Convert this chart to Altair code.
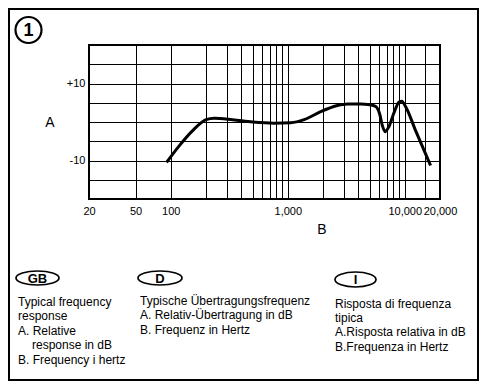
import altair as alt
import pandas as pd

# ---- data ----
freq_hz = [92, 118, 153, 200, 235, 338, 500, 764, 1060, 1380, 1910, 2660, 3240, 4210,
           5000, 5650, 6110, 6440, 6790, 7260, 8110, 8940, 9420, 10200, 12400, 16600]
resp_db = [-10.5, -6.2, -2.3, 0.6, 1.0, 0.6, 0.0, -0.3, -0.2, 0.6, 2.7, 4.3, 4.7, 4.7,
           4.5, 4.0, 2.0, -1.0, -2.5, -1.4, 2.5, 5.2, 5.4, 3.9, -2.3, -11.3]

x_grid = [20, 50, 100, 200, 300, 400, 500, 600, 700, 800, 900, 1000,
          2000, 3000, 4000, 5000, 6000, 7000, 8000, 9000, 10000, 15000, 20000]
x_labelled = [20, 50, 100, 1000, 10000, 20000]
y_grid = [-20, -15, -10, -5, 0, 5, 10, 15, 20]

gb_lines = ["Typical frequency", "response", "A. Relative", "response in dB", "B. Frequency i hertz"]
d_lines = ["Typische Übertragungsfrequenz", "A. Relativ-Übertragung in dB", "B. Frequenz in Hertz"]
i_lines = ["Risposta di frequenza", "tipica", "A.Risposta relativa in dB", "B.Frequenza in Hertz"]

FONT = "Liberation Sans"
OX, OY = 89, 45  # page position of plot origin
W, H = 351, 154

df = pd.DataFrame({"f": freq_hz, "db": resp_db})

one = alt.Data(values=[{}])


def txt(s, px, py, size=12, weight="normal", align="left"):
    return alt.Chart(one).mark_text(
        text=s, align=align, baseline="middle", fontSize=size, font=FONT,
        fontWeight=weight, color="black"
    ).encode(x=alt.value(px - OX), y=alt.value(py - OY))


def ellipse(px, py, w, h, sw=1.7):
    r = h / w
    k = 0.5523
    path = (f"M -1 0 C -1 {-k*r:.4f} {-k:.4f} {-r:.4f} 0 {-r:.4f} "
            f"C {k:.4f} {-r:.4f} 1 {-k*r:.4f} 1 0 "
            f"C 1 {k*r:.4f} {k:.4f} {r:.4f} 0 {r:.4f} "
            f"C {-k:.4f} {r:.4f} -1 {k*r:.4f} -1 0 Z")
    return alt.Chart(one).mark_point(
        shape=path, filled=False, size=w * w, stroke="black", strokeWidth=sw, opacity=1
    ).encode(x=alt.value(px - OX), y=alt.value(py - OY))


label_expr = ("indexof([" + ",".join(str(v) for v in x_labelled) +
              "], datum.value) >= 0 ? format(datum.value, ',') : ''")

line = alt.Chart(df).mark_line(
    color="black", strokeWidth=3, interpolate="monotone"
).encode(
    x=alt.X("f:Q", scale=alt.Scale(type="log", domain=[20, 20000], nice=False),
            axis=alt.Axis(values=x_grid, grid=True, gridColor="black", gridWidth=1,
                          gridOpacity=1, ticks=False, domain=False, labelExpr=label_expr,
                          labelFlush=False, labelOverlap=False, labelPadding=6,
                          labelFontSize=11, labelFont=FONT, labelColor="black", title="")),
    y=alt.Y("db:Q", scale=alt.Scale(domain=[-20, 20], nice=False, zero=False),
            axis=alt.Axis(values=y_grid, grid=True, gridColor="black", gridWidth=1,
                          gridOpacity=1, ticks=False, domain=False,
                          labelExpr="datum.value == 10 ? '+10' : (datum.value == -10 ? '-10' : '')",
                          labelOverlap=False, labelPadding=4, labelFontSize=11,
                          labelFont=FONT, labelColor="black", title="")),
)

frame = alt.Chart(one).mark_rect(fillOpacity=0, stroke="black", strokeWidth=2).encode(
    x=alt.value(9 - OX), x2=alt.value(478 - OX), y=alt.value(9 - OY), y2=alt.value(380 - OY)
)

badge = alt.Chart(one).mark_point(
    shape="circle", filled=False, size=26 * 26, stroke="black", strokeWidth=2.2, opacity=1
).encode(x=alt.value(28.5 - OX), y=alt.value(30 - OY))

layers = [frame, line, badge, txt("1", 28.5, 30.5, size=18, weight="bold", align="center"),
          txt("A", 50, 123, size=14, align="center"), txt("B", 322, 230, size=14, align="center"),
          ellipse(37.5, 278, 43, 14), txt("GB", 37.5, 278.5, size=13, weight="bold", align="center"),
          ellipse(160, 278, 44, 14), txt("D", 160, 278.5, size=13, weight="bold", align="center"),
          ellipse(355.5, 279.5, 41, 15), txt("I", 355.5, 280, size=13, weight="bold", align="center")]

gb_pos = [(18, 302), (18, 316), (18, 330.5), (32, 345), (18, 360)]
d_pos = [(140, 300.5), (140, 315), (140, 330)]
i_pos = [(335, 303.5), (335, 318), (335, 332), (335, 346.5)]
for lines, pos in ((gb_lines, gb_pos), (d_lines, d_pos), (i_lines, i_pos)):
    for s, (px, py) in zip(lines, pos):
        layers.append(txt(s, px, py))

chart = alt.layer(*layers).properties(
    width=W, height=H,
    autosize=alt.AutoSizeParams(type="none"),
    padding={"left": OX - 8, "top": OY - 8, "right": 471 - (OX - 8) - W, "bottom": 373 - (OY - 8) - H},
).configure_view(stroke="black", strokeWidth=2)

chart.save("out.html", embed_options={"renderer": "svg", "actions": False})
